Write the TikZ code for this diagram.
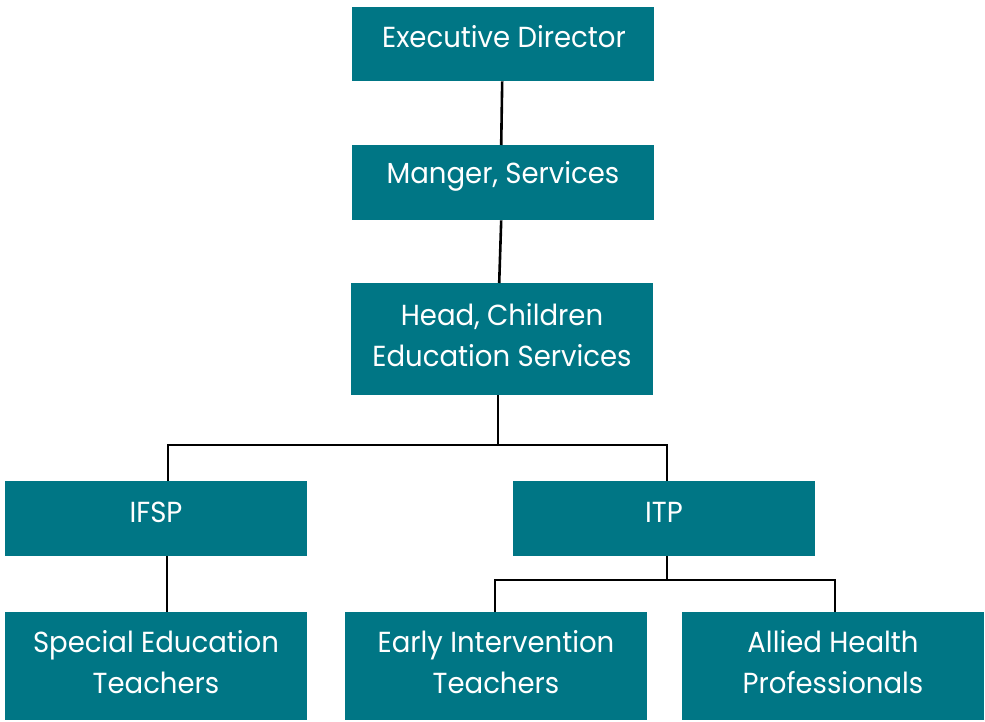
\documentclass[tikz,border=0pt]{standalone}
\usepackage{fontspec}
\setmainfont[FakeStretch=0.95]{Poppins}
\definecolor{teal}{HTML}{007685}
\begin{document}
\begin{tikzpicture}[x=1pt,y=-1pt,
  box/.style={draw=none,fill=teal,minimum width=302pt,inner sep=0pt,anchor=north west},
  lbl/.style={text=white,font=\fontsize{29}{41}\selectfont,align=center,inner sep=0pt},
  link/.style={line width=2.6pt,black}]
\useasboundingbox (0,0) rectangle (985,722);
% boxes
\node[box,minimum height=74pt] (ed) at (352,7) {};
\node[box,minimum height=75pt] (ms) at (352,145) {};
\node[box,minimum height=112pt] (hc) at (351,283) {};
\node[box,minimum height=75pt] (ifsp) at (5,481) {};
\node[box,minimum height=75pt] (itp) at (513,481) {};
\node[box,minimum height=108pt] (set) at (5,612) {};
\node[box,minimum height=108pt] (eit) at (345,612) {};
\node[box,minimum height=108pt] (ahp) at (682,612) {};
% labels
\node[lbl] (ted) at (504,37) {Executive Director};
\node[lbl] (tms) at (503,176) {Manger, Services};
\node[lbl] (thc) at (502,335) {Head, Children\\Education Services};
\node[lbl] (tifsp) at (156,512) {IFSP};
\node[lbl] (titp) at (664,512) {ITP};
\node[lbl] (tset) at (156,662) {Special Education\\Teachers};
\node[lbl] (teit) at (496,662) {Early Intervention\\Teachers};
\node[lbl] (tahp) at (833,662) {Allied Health\\Professionals};
% connectors
\coordinate (j1) at (498,445);
\coordinate (j2) at (667,580);
\draw[link] (ed.south) ++(-1,0) coordinate (a1) (a1) -- ([xshift=-2pt]ms.north);
\draw[link] ([xshift=-2pt]ms.south) -- ([xshift=-3pt]hc.north);
\draw[link] (hc.south -| j1) -- (j1);
\draw[link] (ifsp.north -| 168,0) |- (j1) -| (itp.north -| 667,0);
\draw[link] (ifsp.south -| 167,0) -- (set.north -| 167,0);
\draw[link] (itp.south -| j2) -- (j2);
\draw[link] (eit.north -| 495,0) |- (j2) -| (ahp.north -| 835,0);
\end{tikzpicture}
\end{document}
